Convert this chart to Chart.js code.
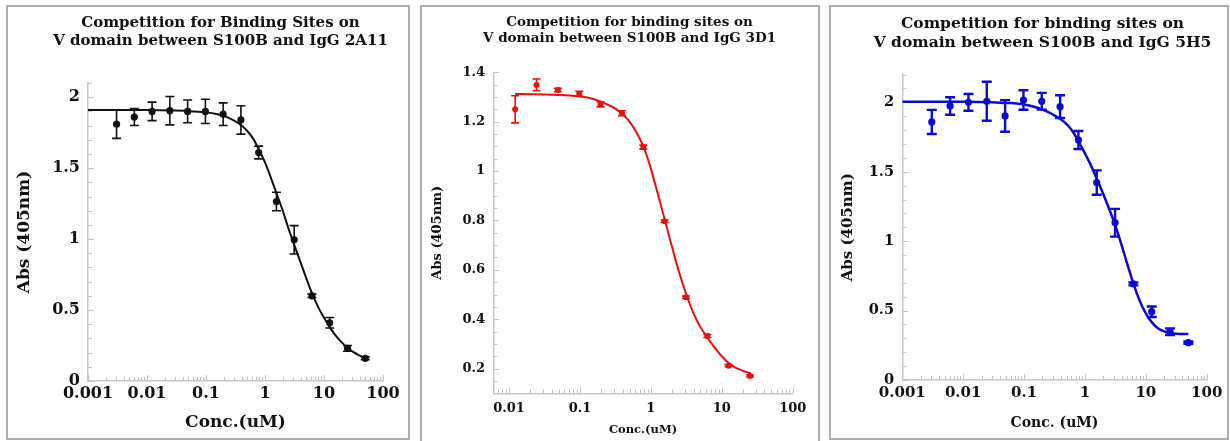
<!DOCTYPE html>
<html>
<head>
<meta charset="utf-8">
<script src="https://cdn.jsdelivr.net/npm/chart.js@4.4.1/dist/chart.umd.min.js"></script>
<style>
  html, body { margin: 0; padding: 0; background: #fff; width: 1230px; height: 441px; overflow: hidden; position: relative; }
  .panel { position: absolute; box-sizing: border-box; border: 2px solid #adadad; background: #fff; }
  .panel canvas { position: absolute; left: 0; top: 0; }
  .ttl { position: absolute; width: 420px; text-align: center; font-family: 'DejaVu Serif', serif; font-weight: bold; color: #111; white-space: nowrap; }
</style>
</head>
<body>
<div class="panel" style="left:6px;top:5px;width:404px;height:435px"><canvas id="c1" width="400" height="431"></canvas></div>
<div class="panel" style="left:420px;top:5px;width:400px;height:440px"><canvas id="c2" width="396" height="434"></canvas></div>
<div class="panel" style="left:829px;top:5px;width:400px;height:435px"><canvas id="c3" width="396" height="431"></canvas></div>

<div class="ttl" style="left:10.5px;top:12.5px;font-size:15px;line-height:18.3px">Competition for Binding Sites on<br>V domain between S100B and IgG 2A11</div>
<div class="ttl" style="left:419.5px;top:12.7px;font-size:13.5px;line-height:16px">Competition for binding sites on<br>V domain between S100B and IgG 3D1</div>
<div class="ttl" style="left:832.5px;top:13.2px;font-size:15.5px;line-height:19px">Competition for binding sites on<br>V domain between S100B and IgG 5H5</div>

<script>
// ---- IgG 2A11 ----
const conc2A11 = [0.00305, 0.0061, 0.0122, 0.0244, 0.0488, 0.0977, 0.1953, 0.3906, 0.7813, 1.5625, 3.125, 6.25, 12.5, 25, 50];
const abs2A11  = [1.81, 1.86, 1.90, 1.905, 1.90, 1.90, 1.88, 1.84, 1.61, 1.265, 0.995, 0.60, 0.41, 0.23, 0.16];
const err2A11  = [0.10, 0.06, 0.065, 0.10, 0.08, 0.085, 0.08, 0.10, 0.045, 0.065, 0.10, 0.012, 0.037, 0.02, 0.01];
// fitted curve
const fitX2A11 = [0.001, 0.01, 0.03, 0.06, 0.1, 0.15, 0.2, 0.3, 0.4, 0.5, 0.63, 0.8, 1.0, 1.26, 1.58, 2.0, 2.5, 3.16, 3.98, 5.0, 6.3, 7.94, 10, 12.6, 15.8, 20, 25.1, 31.6, 39.8, 50];
const fitY2A11 = [1.910, 1.910, 1.906, 1.900, 1.893, 1.882, 1.868, 1.835, 1.800, 1.762, 1.708, 1.625, 1.540, 1.432, 1.318, 1.200, 1.075, 0.955, 0.840, 0.725, 0.615, 0.522, 0.445, 0.378, 0.320, 0.272, 0.232, 0.203, 0.180, 0.160];

// ---- IgG 3D1 ----
const conc3D1 = [0.0122, 0.0244, 0.0488, 0.0977, 0.1953, 0.3906, 0.7813, 1.5625, 3.125, 6.25, 12.5, 25];
const abs3D1  = [1.25, 1.349, 1.328, 1.313, 1.27, 1.234, 1.097, 0.797, 0.489, 0.332, 0.212, 0.17];
const err3D1  = [0.055, 0.024, 0.007, 0.01, 0.01, 0.01, 0.008, 0.005, 0.005, 0.006, 0.004, 0.004];
const fitX3D1 = [0.0122, 0.02, 0.04, 0.07, 0.1, 0.15, 0.2, 0.25, 0.32, 0.4, 0.5, 0.63, 0.8, 1.0, 1.26, 1.58, 2.0, 2.5, 3.16, 3.98, 5.0, 6.3, 7.94, 10, 12.6, 15.8, 20, 25.6];
const fitY3D1 = [1.312, 1.311, 1.309, 1.306, 1.302, 1.293, 1.280, 1.268, 1.252, 1.230, 1.200, 1.155, 1.094, 1.010, 0.905, 0.800, 0.690, 0.590, 0.500, 0.425, 0.368, 0.325, 0.285, 0.250, 0.222, 0.203, 0.191, 0.180];

// ---- IgG 5H5 ----
const conc5H5 = [0.00305, 0.0061, 0.0122, 0.0244, 0.0488, 0.0977, 0.1953, 0.3906, 0.7813, 1.5625, 3.125, 6.25, 12.5, 25, 50];
const abs5H5  = [1.859, 1.974, 2.0, 2.008, 1.902, 2.017, 2.008, 1.969, 1.729, 1.422, 1.133, 0.692, 0.492, 0.348, 0.269];
const err5H5  = [0.087, 0.063, 0.06, 0.14, 0.114, 0.07, 0.06, 0.082, 0.065, 0.088, 0.10, 0.01, 0.038, 0.024, 0.008];
const fitX5H5 = [0.001, 0.01, 0.03, 0.06, 0.1, 0.15, 0.2, 0.25, 0.32, 0.4, 0.5, 0.63, 0.8, 1.0, 1.26, 1.58, 2.0, 2.5, 3.16, 3.98, 5.0, 6.3, 7.94, 10, 12.6, 15.8, 20, 25.1, 31.6, 50];
const fitY5H5 = [2.005, 2.004, 2.000, 1.995, 1.985, 1.967, 1.948, 1.930, 1.905, 1.878, 1.843, 1.790, 1.712, 1.632, 1.545, 1.445, 1.340, 1.232, 1.112, 0.975, 0.830, 0.690, 0.570, 0.480, 0.415, 0.373, 0.350, 0.338, 0.333, 0.331];

// ---- axis ticks ----
const xMajorA = [0.001, 0.01, 0.1, 1, 10, 100];
const xLabelA = ['0.001', '0.01', '0.1', '1', '10', '100'];
const xMajorB = [0.01, 0.1, 1, 10, 100];
const xLabelB = ['0.01', '0.1', '1', '10', '100'];
const yMajor2A11 = [0, 0.5, 1, 1.5, 2];
const yLabel2A11 = ['0', '0.5', '1', '1.5', '2'];
const yMajor3D1 = [0.2, 0.4, 0.6, 0.8, 1, 1.2, 1.4];
const yLabel3D1 = ['0.2', '0.4', '0.6', '0.8', '1', '1.2', '1.4'];
const yMajor5H5 = [0, 0.5, 1, 1.5, 2];
const yLabel5H5 = ['0', '0.5', '1', '1.5', '2'];

const SERIF = "'DejaVu Serif', serif";

function logTicks(min, max) {
  const out = [];
  for (let e = Math.floor(Math.log10(min)); e <= Math.ceil(Math.log10(max)); e++) {
    for (let k = 1; k <= 9; k++) {
      const v = +(k * Math.pow(10, e)).toPrecision(6);
      if (v >= min * 0.9999 && v <= max * 1.0001) out.push(v);
    }
  }
  return out;
}
function linTicks(min, max, step) {
  const out = [];
  for (let i = 0; ; i++) {
    const v = Math.round((min + i * step) * 1e6) / 1e6;
    if (v > max + 1e-9) break;
    out.push(v);
  }
  return out;
}
function findLabel(v, majors, labels, log) {
  for (let i = 0; i < majors.length; i++) {
    const d = log ? Math.abs(Math.log10(v) - Math.log10(majors[i])) : Math.abs(v - majors[i]);
    if (d < 1e-6) return labels[i];
  }
  return '';
}

// short tick marks drawn inward from both axes
const innerTicks = {
  id: 'innerTicks',
  beforeDatasetsDraw(chart, args, o) {
    const { ctx, chartArea: a } = chart;
    const xs = chart.scales.x, ys = chart.scales.y;
    ctx.save();
    ctx.strokeStyle = o.color;
    ctx.lineWidth = 1;
    ctx.beginPath();
    xs.ticks.forEach(t => {
      const px = Math.round(xs.getPixelForValue(t.value)) + 0.5;
      const len = t.label ? o.major : o.minor;
      ctx.moveTo(px, a.bottom);
      ctx.lineTo(px, a.bottom - len);
    });
    ys.ticks.forEach(t => {
      const py = Math.round(ys.getPixelForValue(t.value)) + 0.5;
      const len = t.label ? o.major : o.minor;
      ctx.moveTo(a.left, py);
      ctx.lineTo(a.left + len, py);
    });
    ctx.stroke();
    ctx.restore();
  }
};

// vertical error bars with caps, drawn under each marker
const errorBars = {
  id: 'errorBars',
  beforeDatasetDraw(chart, args) {
    const ds = chart.data.datasets[args.index];
    if (!ds.errors) return;
    const { ctx } = chart;
    const xs = chart.scales.x, ys = chart.scales.y;
    ctx.save();
    ctx.strokeStyle = ds.backgroundColor;
    ctx.lineWidth = ds.errorWidth;
    ctx.beginPath();
    ds.data.forEach((p, i) => {
      const x = xs.getPixelForValue(p.x);
      const y1 = ys.getPixelForValue(p.y + ds.errors[i]);
      const y2 = ys.getPixelForValue(p.y - ds.errors[i]);
      const c = ds.capHalf;
      ctx.moveTo(x, y1); ctx.lineTo(x, y2);
      ctx.moveTo(x - c, y1); ctx.lineTo(x + c, y1);
      ctx.moveTo(x - c, y2); ctx.lineTo(x + c, y2);
    });
    ctx.stroke();
    ctx.restore();
  }
};

function makeChart(id, c) {
  const pts = c.conc.map((x, i) => ({ x, y: c.abs[i] }));
  const fit = c.fitX.map((x, i) => ({ x, y: c.fitY[i] }));
  const xTickVals = logTicks(c.xMin, c.xMax);
  const yTickVals = linTicks(c.yMin, c.yMax, c.yStep);
  return new Chart(document.getElementById(id), {
    type: 'scatter',
    data: {
      datasets: [
        {
          data: pts, order: 0, showLine: false,
          pointStyle: 'circle', pointRadius: c.pointR, borderWidth: 0,
          backgroundColor: c.color, borderColor: c.color,
          errors: c.err, errorWidth: c.errW, capHalf: c.cap
        },
        {
          data: fit, order: 1, showLine: true, pointRadius: 0,
          borderColor: c.color, borderWidth: c.lineW,
          cubicInterpolationMode: 'monotone', fill: false
        }
      ]
    },
    options: {
      responsive: false, animation: false, events: [],
      layout: { padding: { left: 0, right: c.padR, top: c.padT, bottom: 0 } },
      plugins: {
        legend: { display: false }, tooltip: { enabled: false }, title: { display: false },
        innerTicks: { color: '#c4c4c4', major: 6, minor: 4 }
      },
      scales: {
        x: {
          type: 'logarithmic', min: c.xMin, max: c.xMax,
          afterBuildTicks: s => { s.ticks = xTickVals.map(v => ({ value: v })); },
          afterFit: s => { s.height = c.xH; },
          ticks: {
            autoSkip: false, maxRotation: 0, minRotation: 0, padding: c.xTickPad,
            color: '#111', font: { family: SERIF, size: c.xTickFont, weight: 'bold' },
            callback: v => findLabel(v, c.xMajor, c.xLabels, true)
          },
          grid: { display: true, drawOnChartArea: false, drawTicks: false },
          border: { display: true, color: '#c8c8c8', width: 1.5 },
          title: {
            display: true, text: c.xTitle, color: '#111',
            font: { family: SERIF, size: c.xTitleFont, weight: 'bold' },
            padding: { top: 0, bottom: c.xTitlePad }
          }
        },
        y: {
          type: 'linear', min: c.yMin, max: c.yMax,
          afterBuildTicks: s => { s.ticks = yTickVals.map(v => ({ value: v })); },
          afterFit: s => { s.width = c.yW; },
          ticks: {
            autoSkip: false, padding: c.yTickPad,
            color: '#111', font: { family: SERIF, size: c.yTickFont, weight: 'bold' },
            callback: v => findLabel(v, c.yMajor, c.yLabels, false)
          },
          grid: { display: true, drawOnChartArea: false, drawTicks: false },
          border: { display: true, color: '#c8c8c8', width: 1.5 },
          title: {
            display: true, text: 'Abs (405nm)', color: '#111',
            font: { family: SERIF, size: c.yTitleFont, weight: 'bold' },
            padding: { top: c.yTitlePad, bottom: 0 }
          }
        }
      }
    },
    plugins: [innerTicks, errorBars]
  });
}

makeChart('c1', {
  conc: conc2A11, abs: abs2A11, err: err2A11, fitX: fitX2A11, fitY: fitY2A11,
  color: '#111111', pointR: 3.6, errW: 1.6, cap: 4.5, lineW: 2,
  xMin: 0.001, xMax: 100, xMajor: xMajorA, xLabels: xLabelA,
  yMin: 0, yMax: 2.1, yStep: 0.1, yMajor: yMajor2A11, yLabels: yLabel2A11,
  padR: 25, padT: 76, yW: 80, xH: 57,
  xTickPad: 3, xTickFont: 16, yTickPad: 8, yTickFont: 16,
  xTitle: 'Conc.(uM)', xTitleFont: 17, xTitlePad: 4.8,
  yTitleFont: 17, yTitlePad: 6.8
});

makeChart('c2', {
  conc: conc3D1, abs: abs3D1, err: err3D1, fitX: fitX3D1, fitY: fitY3D1,
  color: '#e8100f', pointR: 3, errW: 1.6, cap: 4, lineW: 2,
  xMin: 0.006, xMax: 100, xMajor: xMajorB, xLabels: xLabelB,
  yMin: 0.1, yMax: 1.4, yStep: 0.05, yMajor: yMajor3D1, yLabels: yLabel3D1,
  padR: 25.3, padT: 65.3, yW: 71.3, xH: 47.7,
  xTickPad: 7.2, xTickFont: 13, yTickPad: 8.3, yTickFont: 13,
  xTitle: 'Conc.(uM)', xTitleFont: 11.5, xTitlePad: 4.1,
  yTitleFont: 13, yTitlePad: 8.2
});

makeChart('c3', {
  conc: conc5H5, abs: abs5H5, err: err5H5, fitX: fitX5H5, fitY: fitY5H5,
  color: '#0a0ad2', pointR: 3.6, errW: 2.4, cap: 5, lineW: 2.5,
  xMin: 0.001, xMax: 100, xMajor: xMajorA, xLabels: xLabelA,
  yMin: 0, yMax: 2.2, yStep: 0.1, yMajor: yMajor5H5, yLabels: yLabel5H5,
  padR: 20.3, padT: 67.6, yW: 71.3, xH: 58,
  xTickPad: 4.3, xTickFont: 15, yTickPad: 8.3, yTickFont: 14.5,
  xTitle: 'Conc. (uM)', xTitleFont: 14, xTitlePad: 6.6,
  yTitleFont: 15, yTitlePad: 8
});
</script>
</body>
</html>
